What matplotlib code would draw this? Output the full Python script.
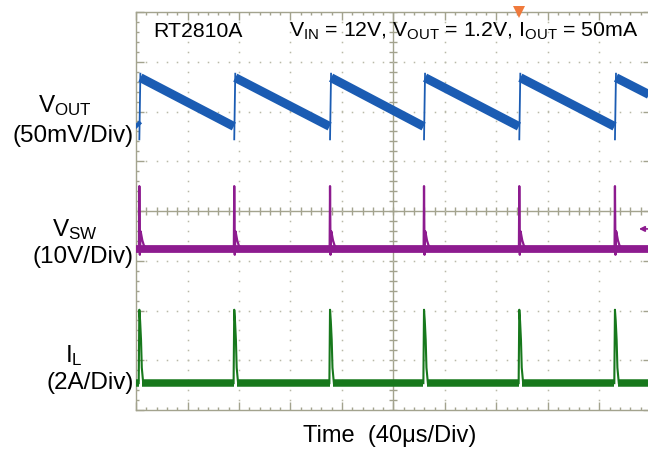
import numpy as np
import matplotlib
matplotlib.use("Agg")
import matplotlib.pyplot as plt

# ---------------- data (read from the scope capture) ----------------
us_per_div = 40
vout_mv_per_div = 50
vsw_v_per_div = 10
il_a_per_div = 2
# ground / reference positions of each channel on screen (divisions from centre)
vout_offset_div = 0.0
vsw_offset_div = -0.77
il_offset_div = -3.46

# switching instants (µs)
switch_us = [2.6, 76.3, 150.7, 223.7, 297.7, 372.0]

# VOUT ripple ramps (mV, relative to screen centre)
vout_ramp_start_us = [0.0, 3.4, 77.1, 151.5, 224.5, 298.5, 372.8]
vout_ramp_start_mv = [88, 134, 134, 134, 134, 134, 134]
vout_ramp_end_us = [2.2, 76.0, 150.4, 223.4, 297.4, 371.7, 400.0]
vout_ramp_end_mv = [85, 85, 85, 85, 85, 85, 116]
vout_edge_low_mv = 72
vout_edge_high_mv = 138

# VSW pulse shape around each switching instant
vsw_pulse_dt_us = [-0.3, 0.0, 0.4, 1.0, 2.3, 3.5, 6.0]
vsw_pulse_v = [0.0, 12.7, -1.1, 3.6, 1.8, 0.8, 0.0]

# inductor current pulse shape around each switching instant
il_pulse_dt_us = [-0.5, 0.0, 0.6, 1.3, 1.9, 3.0]
il_pulse_a = [0.0, 2.95, 2.5, 1.74, 0.62, 0.0]

trigger_us = 297.7
trigger_level_v = 4.1

# ---------------- styling ----------------
plt.rcParams['font.family'] = ['Liberation Sans', 'DejaVu Sans']
plt.rcParams['mathtext.fontset'] = 'custom'
plt.rcParams['mathtext.rm'] = 'Liberation Sans'
plt.rcParams['mathtext.it'] = 'Liberation Sans'

W, H = 648, 451
fig = plt.figure(figsize=(W / 100, H / 100), dpi=100)
fig.patch.set_facecolor('white')
ax = fig.add_axes([136 / W, 41 / H, 515 / W, 398 / H])
ax.set_xlim(0, 10 * us_per_div)
ax.set_ylim(-4, 4)
ax.set_facecolor('white')

grid_c = '#a3a38e'
dot_c = '#b9b9a8'
for sp in ax.spines.values():
    sp.set_color(grid_c)
    sp.set_linewidth(1.0)

ax.set_xticks(np.arange(0, 401, us_per_div))
ax.set_xticks(np.arange(0, 401, us_per_div / 5), minor=True)
ax.set_yticks(np.arange(-4, 5, 1))
ax.set_yticks(np.arange(-4, 4.01, 0.2), minor=True)
ax.tick_params(which='both', direction='in', top=True, right=True, bottom=True, left=True,
               labelbottom=False, labelleft=False, color=grid_c, width=1.0)
ax.tick_params(which='major', length=5.5)
ax.tick_params(which='minor', length=2.5)

# centre cross
ax.axhline(0, color=grid_c, lw=1.0, zorder=1)
ax.axvline(200, color=grid_c, lw=1.0, zorder=1)
xm = np.arange(0, 401, us_per_div / 5)
ym = np.arange(-4, 4.01, 0.2)
ax.plot(xm, np.zeros_like(xm), ls='none', marker='|', ms=5.5, mew=1.0, color=grid_c, zorder=1)
ax.plot(np.full_like(ym, 200), ym, ls='none', marker='_', ms=5.5, mew=1.0, color=grid_c, zorder=1)

# dotted graticule
for gx in np.arange(us_per_div, 400, us_per_div):
    if gx == 200:
        continue
    ax.plot(np.full_like(ym, gx), ym, ls='none', marker='s', ms=1.1, mew=0, color=dot_c, zorder=1)
for gy in range(-3, 4):
    if gy == 0:
        continue
    ax.plot(xm, np.full_like(xm, gy), ls='none', marker='s', ms=1.1, mew=0, color=dot_c, zorder=1)

blue = '#1b5cb3'
purple = '#8d1b8f'
green = '#17781c'

# ---- VOUT ----
for t0, v0, t1, v1 in zip(vout_ramp_start_us, vout_ramp_start_mv, vout_ramp_end_us, vout_ramp_end_mv):
    ax.plot([t0, t1], [v0 / vout_mv_per_div + vout_offset_div, v1 / vout_mv_per_div + vout_offset_div],
            color=blue, lw=6.4, solid_capstyle='butt', zorder=3)
for s in switch_us:
    ax.plot([s, s + 0.8], [vout_edge_low_mv / vout_mv_per_div, vout_edge_high_mv / vout_mv_per_div],
            color=blue, lw=1.3, zorder=3)

# ---- VSW ----
band_starts = [0.0] + [s + 0.8 for s in switch_us]
band_ends = [s - 0.3 for s in switch_us] + [400.0]
for a, b in zip(band_starts, band_ends):
    ax.plot([a, b], [vsw_offset_div, vsw_offset_div], color=purple, lw=5.6,
            solid_capstyle='butt', zorder=3)
for s in switch_us:
    ax.plot([s + d for d in vsw_pulse_dt_us],
            [vsw_offset_div + v / vsw_v_per_div for v in vsw_pulse_v],
            color=purple, lw=1.6, zorder=3)

# ---- IL ----
band_starts = [0.0] + [s + 2.3 for s in switch_us]
band_ends = [s - 0.4 for s in switch_us] + [400.0]
for a, b in zip(band_starts, band_ends):
    ax.plot([a, b], [il_offset_div, il_offset_div], color=green, lw=5.4,
            solid_capstyle='butt', zorder=3)
for s in switch_us:
    ax.plot([s + d for d in il_pulse_dt_us],
            [il_offset_div + a / il_a_per_div for a in il_pulse_a],
            color=green, lw=1.5, zorder=3)

# trigger markers
ax.plot([trigger_us], [4.0], marker='v', ms=8, color='#f07a3c', mew=0, clip_on=False, zorder=5)
lvl = vsw_offset_div + trigger_level_v / vsw_v_per_div
ax.annotate('', xy=(388.5, lvl), xytext=(400, lvl),
            arrowprops=dict(arrowstyle='-|>', color=purple, lw=1.2, mutation_scale=8),
            annotation_clip=False, zorder=5)

# ---------------- text ----------------
def fx(px):
    return px / W

def fy(py):
    return 1 - py / H

fs_head = 15.3
fs_lab = 17.5
fig.text(fx(153), fy(37), 'RT2810A', fontsize=fs_head, ha='left', va='baseline', color='black')
fig.text(fx(638), fy(37),
         r'V$_{\mathregular{IN}}$ = 12V, V$_{\mathregular{OUT}}$ = 1.2V, I$_{\mathregular{OUT}}$ = 50mA',
         fontsize=fs_head, ha='right', va='baseline', color='black')

fig.text(fx(65), fy(112), r'V$_{\mathregular{OUT}}$', fontsize=fs_lab, ha='center', va='baseline')
fig.text(fx(134), fy(142), '(50mV/Div)', fontsize=fs_lab, ha='right', va='baseline')
fig.text(fx(75), fy(236), r'V$_{\mathregular{SW}}$', fontsize=fs_lab, ha='center', va='baseline')
fig.text(fx(134), fy(263), '(10V/Div)', fontsize=fs_lab, ha='right', va='baseline')
fig.text(fx(74), fy(362), r'I$_{\mathregular{L}}$', fontsize=fs_lab, ha='center', va='baseline')
fig.text(fx(134), fy(389), '(2A/Div)', fontsize=fs_lab, ha='right', va='baseline')

fig.text(fx(390), fy(442), 'Time  (40μs/Div)', fontsize=17, ha='center', va='baseline')

fig.savefig('out.png', dpi=100)
